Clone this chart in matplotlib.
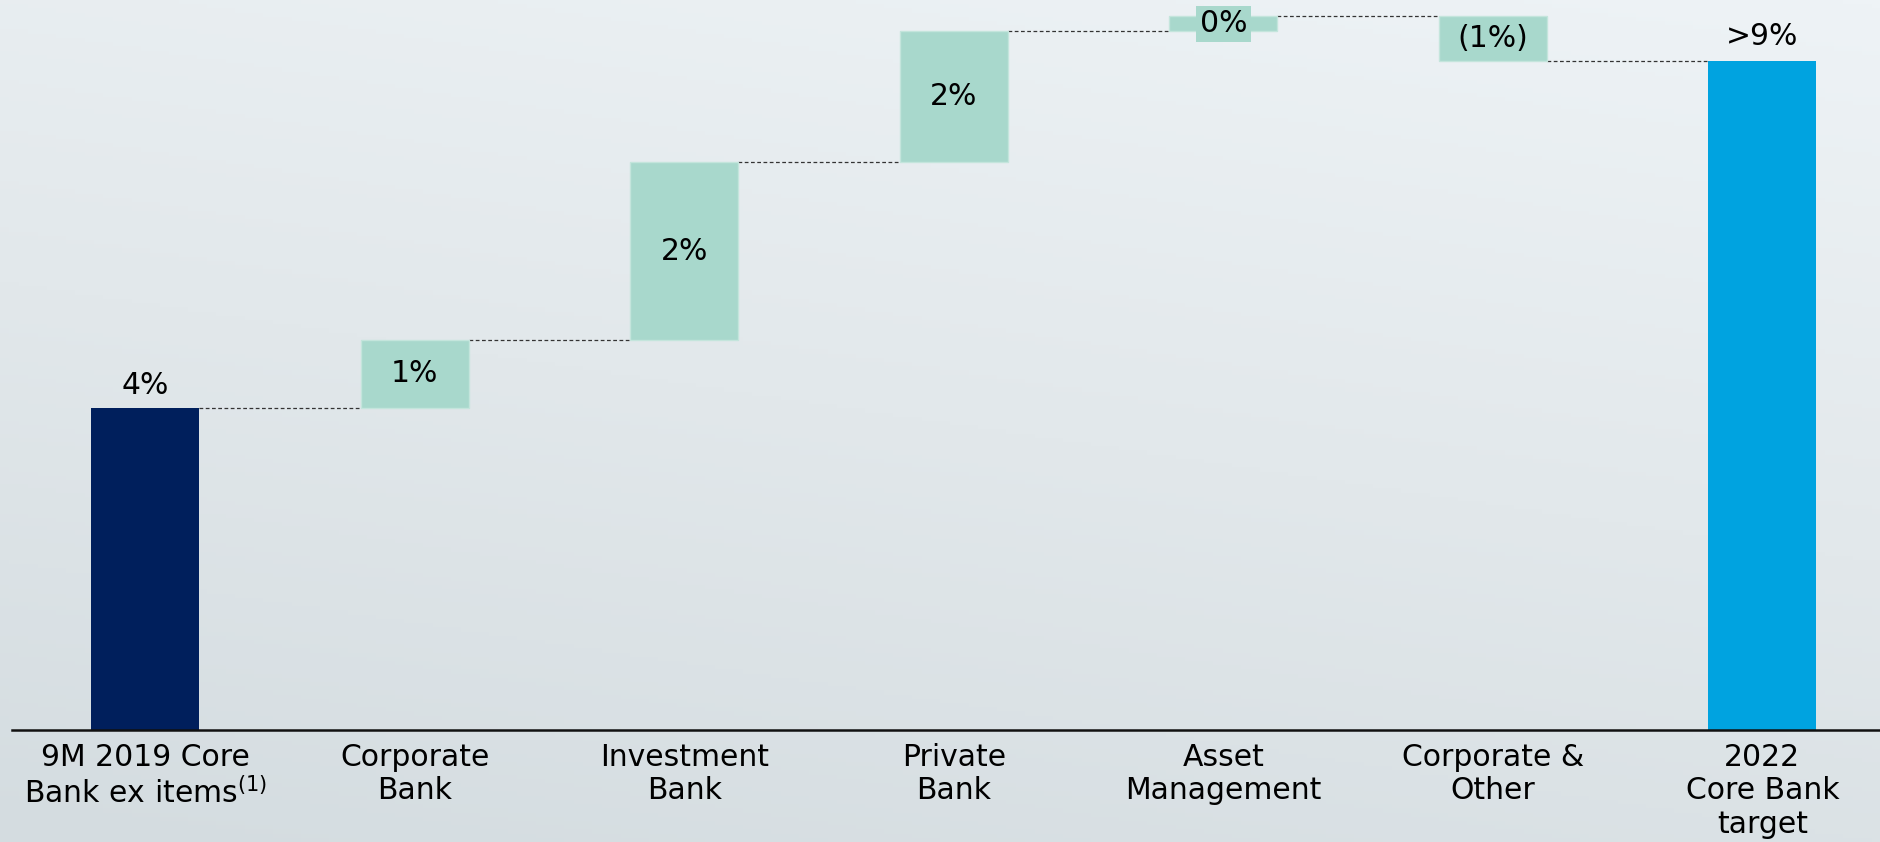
import numpy as np
import matplotlib
matplotlib.use("Agg")
import matplotlib.pyplot as plt
from matplotlib.colors import LinearSegmentedColormap

# Waterfall data (bar heights in chart units, labels as shown)
categories = ["9M 2019 Core\nBank ex items$^{(1)}$", "Corporate\nBank", "Investment\nBank",
              "Private\nBank", "Asset\nManagement", "Corporate &\nOther", "2022\nCore Bank\ntarget"]
start_value = 4.0
steps = [0.85, 2.2, 1.63, 0.19, -0.56]
value_labels = ["4%", "1%", "2%", "2%", "0%", "(1%)", ">9%"]

navy = "#001f5c"
teal = "#a8d8cc"
blue = "#00a3e0"

fig = plt.figure(figsize=(18.81, 8.42), dpi=100)

# background gradient
bg = fig.add_axes([0, 0, 1, 1], zorder=-10)
yy, xx = np.mgrid[0:1:200j, 0:1:200j]
grad = 0.75 * yy + 0.25 * xx
cmap = LinearSegmentedColormap.from_list("bg", ["#d4dce0", "#e2e8eb", "#eef3f6"])
bg.imshow(grad, cmap=cmap, origin="lower", aspect="auto", extent=[0, 1, 0, 1])
bg.axis("off")

ax = fig.add_axes([12 / 1881, 112 / 842, 1 - 12 / 1881, 730 / 842])
ax.patch.set_alpha(0)

width = 0.4
x = np.arange(len(categories))
end_value = start_value + sum(steps)

# running totals
levels = [start_value]
for s in steps:
    levels.append(levels[-1] + s)

ax.bar(x[0], start_value, width=width, color=navy, zorder=2)
for i, s in enumerate(steps):
    bottom = levels[i] if s >= 0 else levels[i + 1]
    ax.bar(x[i + 1], abs(s), bottom=bottom, width=width, color=teal,
           edgecolor="#c4e5dc", linewidth=1, zorder=2)
ax.bar(x[-1], end_value, width=width, color=blue, zorder=2)

# dashed connectors
for i, lev in enumerate(levels):
    ax.plot([x[i] + width / 2, x[i + 1] - width / 2], [lev, lev],
            ls=(0, (3, 2)), color="#333333", lw=0.9, zorder=1)

fs = 21.5
ax.text(x[0], start_value + 0.1, value_labels[0], ha="center", va="bottom", fontsize=fs)
for i, s in enumerate(steps):
    mid = levels[i] + s / 2
    if i == 3:
        ax.text(x[i + 1], mid, value_labels[i + 1], ha="center", va="center", fontsize=fs,
                bbox=dict(boxstyle="square,pad=0.12", fc=teal, ec="none"), zorder=3)
    else:
        ax.text(x[i + 1], mid, value_labels[i + 1], ha="center", va="center", fontsize=fs, zorder=3)
ax.text(x[-1], end_value + 0.12, value_labels[-1], ha="center", va="bottom", fontsize=fs)

ax.set_xlim(-0.494, 6.44)
ax.set_ylim(0, 730 / 80.5)
ax.set_xticks(x)
ax.set_xticklabels(categories, fontsize=fs, linespacing=1.2)
ax.tick_params(axis="x", length=0, pad=9)
ax.set_yticks([])
for side in ["top", "right", "left"]:
    ax.spines[side].set_visible(False)
ax.spines["bottom"].set_linewidth(1.8)
ax.spines["bottom"].set_color("#111111")

fig.savefig("out.png", dpi=100)
